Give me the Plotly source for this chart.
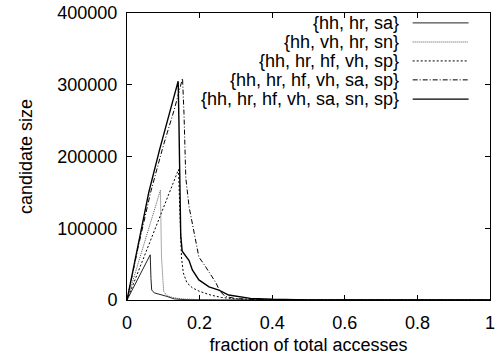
import plotly.graph_objects as go

# ---- data ----
x_tick_vals = [0, 0.2, 0.4, 0.6, 0.8, 1.0]
x_tick_text = ["0", "0.2", "0.4", "0.6", "0.8", "1"]
y_tick_vals = [0, 100000, 200000, 300000, 400000]
y_tick_text = ["0", "100000", "200000", "300000", "400000"]

names = [
    "{hh, hr, sa}",
    "{hh, vh, hr, sn}",
    "{hh, hr, hf, vh, sp}",
    "{hh, hr, hf, vh, sa, sp}",
    "{hh, hr, hf, vh, sa, sn, sp}",
]

s1_x = [0, 0.064, 0.066, 0.068, 0.075, 0.09, 0.11, 0.13, 0.16, 0.25, 1.0]
s1_y = [0, 63000, 30000, 14000, 10000, 8000, 5000, 1500, 500, 100, 0]

s2_x = [0, 0.092, 0.095, 0.098, 0.101, 0.11, 0.125, 0.15, 0.2, 0.3, 1.0]
s2_y = [0, 153000, 60000, 25000, 12000, 6000, 3500, 1500, 500, 100, 0]

s3_x = [0, 0.142, 0.144, 0.147, 0.15, 0.155, 0.165, 0.18, 0.2, 0.23, 0.26, 0.3, 0.4, 1.0]
s3_y = [0, 182000, 150000, 100000, 60000, 38000, 24000, 17000, 12000, 7000, 3500, 1500, 300, 0]

s4_x = [0, 0.03, 0.065, 0.1, 0.13, 0.153, 0.157, 0.162, 0.171, 0.185, 0.198, 0.217,
        0.235, 0.245, 0.255, 0.27, 0.3, 0.35, 0.45, 1.0]
s4_y = [0, 72000, 150000, 215000, 265000, 309000, 260000, 170000, 130000, 92000, 60000, 46000,
        32000, 24000, 13000, 5000, 2000, 800, 200, 0]

s5_x = [0, 0.03, 0.06, 0.09, 0.115, 0.141, 0.143, 0.145, 0.148, 0.152, 0.16, 0.171, 0.18,
        0.198, 0.226, 0.253, 0.28, 0.34, 0.4, 0.5, 1.0]
s5_y = [0, 75000, 150000, 210000, 255000, 305000, 250000, 150000, 90000, 68000, 62000, 55000, 42000,
        28000, 18400, 13800, 6900, 2300, 1000, 200, 0]

series_x = [s1_x, s2_x, s3_x, s4_x, s5_x]
series_y = [s1_y, s2_y, s3_y, s4_y, s5_y]

# ---- styles ----
colors = ["#222222", "#555555", "#000000", "#000000", "#000000"]
dashes = ["solid", "1px,1px", "2px,2px", "5px,2px,1px,2px", "solid"]
widths = [1, 1, 1, 1, 1.4]

FONT = "Liberation Sans, Arial, sans-serif"
FS = 18

fig = go.Figure()
for n, xs, ys, c, d, w in zip(names, series_x, series_y, colors, dashes, widths):
    fig.add_trace(go.Scatter(x=xs, y=ys, mode="lines", name=n,
                             line=dict(color=c, dash=d, width=w), showlegend=False))

# manual gnuplot-style legend (text right-aligned, sample on the right)
leg_rows_y = [0.9655, 0.899, 0.833, 0.767, 0.700]
for n, yy, c, d, w in zip(names, leg_rows_y, colors, dashes, widths):
    fig.add_annotation(xref="paper", yref="paper", x=0.755, y=yy, text=n,
                       showarrow=False, xanchor="right", yanchor="middle",
                       font=dict(family=FONT, size=FS, color="black"))
    fig.add_shape(type="line", xref="paper", yref="paper", x0=0.787, x1=0.941,
                  y0=yy, y1=yy, line=dict(color=c, dash=d, width=w))

axis_common = dict(showline=True, linecolor="black", linewidth=1, mirror="ticks",
                   ticks="inside", ticklen=5, tickcolor="black", showgrid=False,
                   zeroline=False, tickfont=dict(family=FONT, size=FS, color="black"))

fig.update_xaxes(range=[0, 1], tickvals=x_tick_vals, ticktext=x_tick_text,
                 title=dict(text="fraction of total accesses",
                            font=dict(family=FONT, size=FS, color="black"), standoff=6),
                 ticklabelstandoff=6, ticklabeloverflow="allow", **axis_common)
fig.update_yaxes(range=[0, 400000], tickvals=y_tick_vals, ticktext=y_tick_text,
                 title=dict(text="candidate size",
                            font=dict(family=FONT, size=FS, color="black"), standoff=20),
                 ticklabelstandoff=5, **axis_common)

fig.update_layout(width=498, height=362, margin=dict(l=127, r=3, t=10, b=62),
                  paper_bgcolor="white", plot_bgcolor="white",
                  font=dict(family=FONT, size=FS, color="black"))

fig.write_html("out.html")
